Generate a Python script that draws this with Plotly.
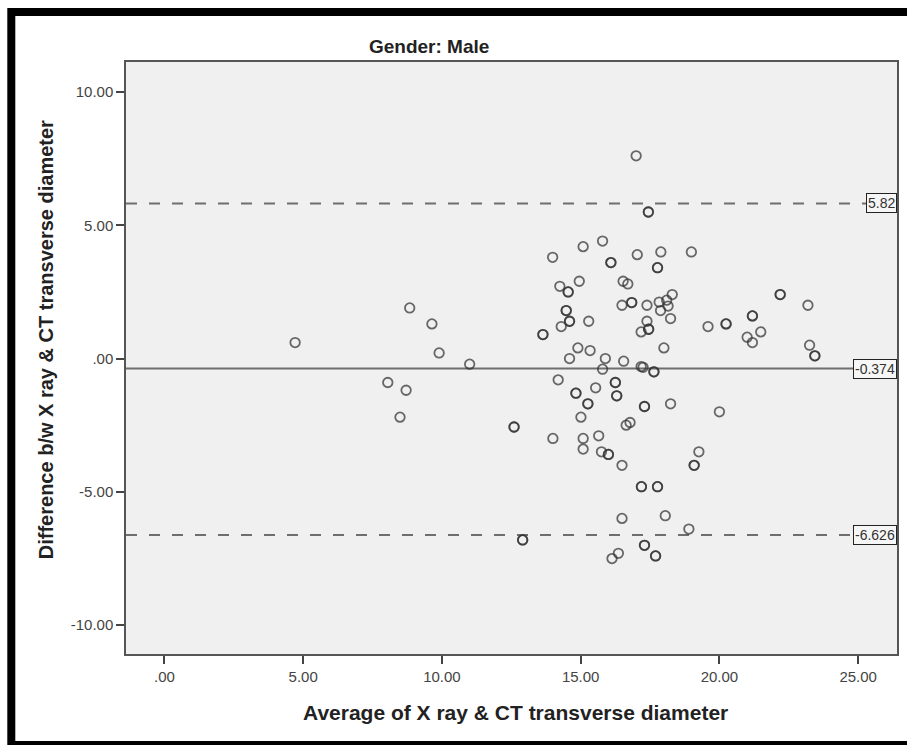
import plotly.graph_objects as go

# ---- data ----
x_avg = [
    4.71, 8.84, 9.64, 9.90, 11.00, 8.05, 8.71, 8.49, 12.60, 12.60, 12.91, 12.91,
    17.00, 17.44, 17.44, 13.99, 15.09, 15.79, 16.09, 16.09, 17.04, 17.89, 18.99,
    17.77, 17.77, 14.25, 14.55, 14.55, 14.95, 16.53, 16.70, 18.30, 18.10, 17.83,
    18.15, 22.19, 22.19, 23.19, 16.49, 16.84, 16.84, 17.39, 14.48, 14.48, 17.88,
    18.24, 14.60, 14.60, 14.30, 15.29, 17.39, 17.45, 17.45, 17.18, 13.64, 13.64,
    19.59, 20.24, 20.24, 21.19, 21.19, 21.49, 21.00, 21.19, 23.25, 23.44, 23.44,
    18.00, 14.90, 15.34, 14.60, 15.89, 16.55, 15.79, 17.18, 17.25, 17.64, 17.64,
    14.19, 15.54, 16.25, 16.25, 14.83, 14.83, 16.30, 16.30, 15.26, 15.26, 17.30,
    17.30, 18.24, 20.00, 15.01, 16.78, 16.64, 14.00, 15.09, 15.65, 15.09, 15.75,
    16.00, 16.00, 16.49, 19.26, 19.09, 19.09, 17.19, 17.19, 17.77, 17.77, 16.49,
    18.05, 18.90, 17.30, 17.30, 16.36, 16.13, 17.70, 17.70,
]
y_diff = [
    0.60, 1.90, 1.30, 0.21, -0.21, -0.90, -1.19, -2.20, -2.57, -2.57, -6.81, -6.81,
    7.61, 5.50, 5.50, 3.80, 4.20, 4.41, 3.60, 3.60, 3.90, 4.00, 4.00,
    3.41, 3.41, 2.71, 2.50, 2.50, 2.90, 2.90, 2.80, 2.40, 2.19, 2.12,
    1.97, 2.40, 2.40, 2.00, 2.00, 2.10, 2.10, 2.00, 1.80, 1.80, 1.80,
    1.50, 1.40, 1.40, 1.20, 1.40, 1.40, 1.10, 1.10, 1.00, 0.90, 0.90,
    1.20, 1.30, 1.30, 1.60, 1.60, 1.00, 0.80, 0.60, 0.50, 0.10, 0.10,
    0.40, 0.40, 0.30, 0.00, 0.00, -0.10, -0.40, -0.30, -0.33, -0.50, -0.50,
    -0.80, -1.10, -0.90, -0.90, -1.30, -1.30, -1.40, -1.40, -1.70, -1.70, -1.80,
    -1.80, -1.70, -2.00, -2.20, -2.40, -2.50, -3.00, -3.00, -2.90, -3.40, -3.50,
    -3.60, -3.60, -4.01, -3.50, -4.01, -4.01, -4.81, -4.81, -4.81, -4.81, -6.00,
    -5.90, -6.40, -7.01, -7.01, -7.31, -7.51, -7.41, -7.41,
]

mean_diff = -0.374
upper_loa = 5.82
lower_loa = -6.626
ref_values = [upper_loa, mean_diff, lower_loa]
ref_labels = ["5.82", "-0.374", "-6.626"]
ref_dash = ["11px,12px", "solid", "11px,12px"]

x_tickvals = [0, 5, 10, 15, 20, 25]
x_ticktext = [".00", "5.00", "10.00", "15.00", "20.00", "25.00"]
y_tickvals = [-10, -5, 0, 5, 10]
y_ticktext = ["-10.00", "-5.00", ".00", "5.00", "10.00"]

chart_title = "Gender: Male"
x_title = "Average of X ray &amp; CT transverse diameter"
y_title = "Difference b/w X ray &amp; CT transverse diameter"

# ---- geometry ----
W, H = 907, 745
L, R, T, B = 126, 8, 62, 91
PW, PH = W - L - R, H - T - B


def px(xp):
    return (xp - L) / PW


def py(yp):
    return (H - B - yp) / PH


FONT = "Liberation Sans, Arial, sans-serif"

fig = go.Figure()
fig.add_trace(go.Scatter(
    x=x_avg, y=y_diff, mode="markers",
    marker=dict(symbol="circle-open", size=9.5, color="rgba(50,50,50,0.72)",
                line=dict(width=1.8)),
    hoverinfo="x+y", showlegend=False,
))

shapes = []
for v, d in zip(ref_values, ref_dash):
    shapes.append(dict(type="line", xref="paper", yref="y", x0=0, x1=1, y0=v, y1=v,
                       line=dict(color="#6e6e6e", width=2, dash=d), layer="below"))
# outer black frame
shapes.append(dict(type="rect", xref="paper", yref="paper",
                   x0=px(11), x1=px(916), y0=py(12), y1=py(745),
                   line=dict(color="black", width=8), fillcolor="rgba(0,0,0,0)",
                   layer="above"))

annotations = []
for v, lab in zip(ref_values, ref_labels):
    annotations.append(dict(x=1, y=v, xref="paper", yref="y", text=lab,
                            xanchor="right", yanchor="middle", showarrow=False,
                            font=dict(family=FONT, size=14, color="#333"),
                            bgcolor="#f6f6f6", bordercolor="#222", borderwidth=1,
                            borderpad=1))
annotations.append(dict(x=px(430), y=py(47), xref="paper", yref="paper",
                        text="<b>" + chart_title + "</b>", showarrow=False,
                        xanchor="center", yanchor="middle",
                        font=dict(family=FONT, size=19, color="#222")))
annotations.append(dict(x=px(517), y=py(712), xref="paper", yref="paper",
                        text="<b>" + x_title + "</b>", showarrow=False,
                        xanchor="center", yanchor="middle",
                        font=dict(family=FONT, size=21, color="#222")))
annotations.append(dict(x=px(46), y=py(340), xref="paper", yref="paper",
                        text="<b>" + y_title + "</b>", showarrow=False, textangle=-90,
                        xanchor="center", yanchor="middle",
                        font=dict(family=FONT, size=20, color="#222")))

axis_common = dict(showline=True, linecolor="#555", linewidth=1.5, mirror=True,
                   ticks="outside", ticklen=8, tickwidth=1.5, tickcolor="#444",
                   showgrid=False, zeroline=False,
                   tickfont=dict(family=FONT, size=15, color="#444"))

fig.update_layout(
    width=W, height=H,
    margin=dict(l=L, r=R, t=T, b=B, pad=0),
    paper_bgcolor="white", plot_bgcolor="#f0f0f0",
    xaxis=dict(range=[-1.384, 26.40], tickvals=x_tickvals, ticktext=x_ticktext,
               **axis_common),
    yaxis=dict(range=[-11.09, 11.13], tickvals=y_tickvals, ticktext=y_ticktext,
               **axis_common),
    shapes=shapes, annotations=annotations,
    font=dict(family=FONT),
)

fig.write_html("out.html", config={"displayModeBar": False},
               post_script="document.body.style.margin='0px';")
